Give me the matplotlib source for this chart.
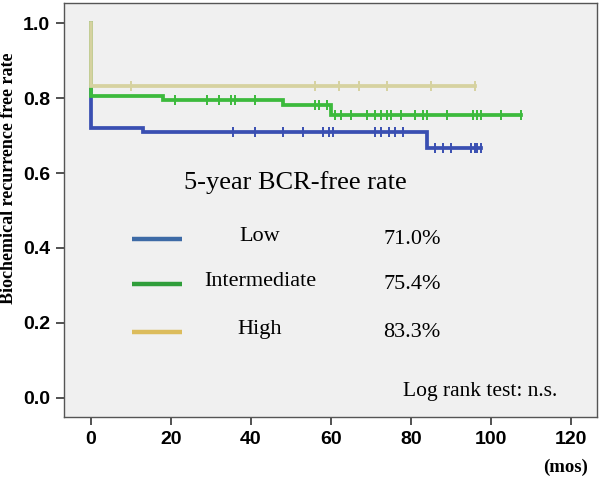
import numpy as np
import matplotlib

matplotlib.use("Agg")
import matplotlib.pyplot as plt
from matplotlib.lines import Line2D

# Kaplan-Meier step curves (months, survival)
low_t = [0, 0, 13, 84, 97.5]
low_s = [1.0, 0.72, 0.710, 0.666, 0.666]
low_cens = [35.5, 41, 48, 53, 58, 59.5, 60.5, 71, 72.5, 74.5, 76, 78,
            86, 88, 90, 95, 96, 96.5, 97.5]

int_t = [0, 0, 18, 48, 60, 107.5]
int_s = [1.0, 0.806, 0.795, 0.781, 0.754, 0.754]
int_cens = [21, 29, 32, 35, 36, 41, 56, 57, 59, 61, 62.5, 65, 69, 71, 72.5,
            74, 75, 77.5, 81, 83, 84, 89, 95.5, 96.5, 97.5, 102.5, 107.5]

high_t = [0, 0, 96]
high_s = [1.0, 0.833, 0.833]
high_cens = [10, 56, 62, 67, 74, 85, 96]

groups = ["Low", "Intermediate", "High"]
rates = ["71.0%", "75.4%", "83.3%"]
curve_colors = ["#3a4fb2", "#3cba3c", "#d6d2a0"]
legend_colors = ["#3d6aa6", "#2f9e3a", "#dcbc5c"]

xticks = [0, 20, 40, 60, 80, 100, 120]
yticks = [0.0, 0.2, 0.4, 0.6, 0.8, 1.0]

serif = "Liberation Serif"
sans = "Liberation Sans"

fig = plt.figure(figsize=(6.0, 4.78), dpi=100)
ax = fig.add_axes([0.1067, 0.1282, 0.8883, 0.8662])
ax.set_facecolor("#f0f0f0")


def step_at(t, s, x):
    t = np.asarray(t)
    s = np.asarray(s)
    idx = np.searchsorted(t, x, side="right") - 1
    return s[idx]


curves = [(low_t, low_s, low_cens), (int_t, int_s, int_cens),
          (high_t, high_s, high_cens)]
for (t, s, cens), col in zip(curves, curve_colors):
    ax.step(t, s, where="post", color=col, lw=2.7, solid_joinstyle="miter")
    cx = np.asarray(cens, dtype=float)
    ax.plot(cx, step_at(t, s, cx), ls="none", marker="|", ms=7, mew=1.4,
            color=col)

ax.set_xlim(-6.75, 126.5)
ax.set_ylim(-0.0507, 1.055)
ax.set_xticks(xticks)
ax.set_yticks(yticks)
ax.set_xticklabels([str(v) for v in xticks], fontsize=14,
                   fontweight="bold", family=sans)
ax.set_yticklabels([f"{v:.1f}" for v in yticks], fontsize=14,
                   fontweight="bold", family=sans)
ax.tick_params(direction="out", length=6, width=1.2, color="#333333",
               pad=4)
for sp in ax.spines.values():
    sp.set_color("#555555")
    sp.set_linewidth(1.0)

fig.text(0.014, 0.628, "Biochemical recurrence free rate", rotation=90,
         ha="center", va="center", fontsize=13, fontweight="bold",
         family=serif)
fig.text(0.98, 0.023, "(mos)", ha="right", va="center", fontsize=13.5,
         fontweight="bold", family=serif)

# custom legend table
ax.text(0.4334, 0.5645, "5-year BCR-free rate", transform=ax.transAxes,
        ha="center", va="center", fontsize=19, family=serif)
row_y = [0.4292, 0.3205, 0.2046]
for g, r, col, y in zip(groups, rates, legend_colors, row_y):
    ax.add_line(Line2D([0.1276, 0.2214], [y, y], transform=ax.transAxes,
                       color=col, lw=3.2, solid_capstyle="butt"))
    ax.text(0.3677, y + 0.006, g, transform=ax.transAxes, ha="center",
            va="center", fontsize=16, family=serif)
    ax.text(0.5985, y, r, transform=ax.transAxes, ha="left", va="center",
            fontsize=16, family=serif)

ax.text(0.636, 0.062, "Log rank test: n.s.", transform=ax.transAxes,
        ha="left", va="center", fontsize=15.5, family=serif)

fig.savefig("out.png", dpi=100)
